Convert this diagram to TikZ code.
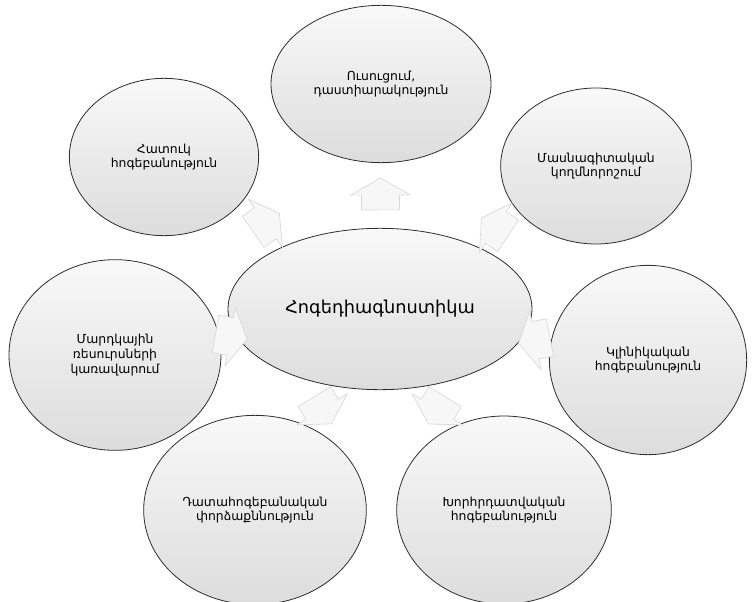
\documentclass[tikz,border=0pt]{standalone}
\usepackage{fontspec}
\setmainfont{DejaVu Sans}
\usetikzlibrary{shapes.geometric,shapes.arrows}

\tikzset{every picture/.style={line width=0.75pt}}
\tikzset{
  bubble/.style={ellipse, draw={rgb, 255:red, 45; green, 45; blue, 45}, line width=0.6pt,
    top color=gray!5, bottom color=gray!27, inner sep=0pt, align=center,
    font=\fontsize{9.3}{11}\selectfont},
  spoke/.style={single arrow, draw=gray!30, fill=gray!6, line width=0.5pt,
    minimum height=24pt, single arrow head extend=8pt,
    single arrow tip angle=120, inner xsep=0pt, inner ysep=14pt, sloped, allow upside down}
}

\begin{document}
\begin{tikzpicture}[x=0.75pt,y=0.75pt,yscale=-1,xscale=1]
\useasboundingbox (0,0) rectangle (752,602);
% Centre ellipse
\node [bubble, minimum width=228pt, minimum height=121pt, font=\fontsize{13.3}{15}\selectfont] (diag) at (380,309) {Հոգեդիագնոստիկա};
% Outer ellipses
\node [bubble, minimum width=165pt, minimum height=118pt] (teach) at (381,84) {Ուսուցում,\\դաստիարակություն};
\node [bubble, minimum width=142pt, minimum height=118pt] (spec) at (164,157) {Հատուկ\\հոգեբանություն};
\node [bubble, minimum width=143pt, minimum height=117pt] (career) at (596,166) {Մասնագիտական\\կողմնորոշում};
\node [bubble, minimum width=159pt, minimum height=143pt] (hr) at (115,355) {Մարդկային\\ռեսուրսների\\կառավարում};
\node [bubble, minimum width=148pt, minimum height=142pt] (clin) at (648,360) {Կլինիկական\\հոգեբանություն};
\node [bubble, minimum width=167pt, minimum height=142pt] (forens) at (255,510) {Դատահոգեբանական\\փորձաքննություն};
\node [bubble, minimum width=161pt, minimum height=141pt] (couns) at (504,510) {Խորհրդատվական\\հոգեբանություն};

% Block arrows (from each outer ellipse back to the centre, so the tips face out)
\path (teach) -- node [spoke, pos=0.56] (a1) {} (diag);
\path (spec) -- node [spoke, pos=0.49] (a2) {} (diag);
\path (career) -- node [spoke, pos=0.48] (a3) {} (diag);
\path (hr) -- node [spoke, pos=0.41] (a4) {} (diag);
\path (clin) -- node [spoke, pos=0.41] (a5) {} (diag);
\path (forens) -- node [spoke, pos=0.51] (a6) {} (diag);
\path (couns) -- node [spoke, pos=0.52] (a7) {} (diag);

\end{tikzpicture}
\end{document}
